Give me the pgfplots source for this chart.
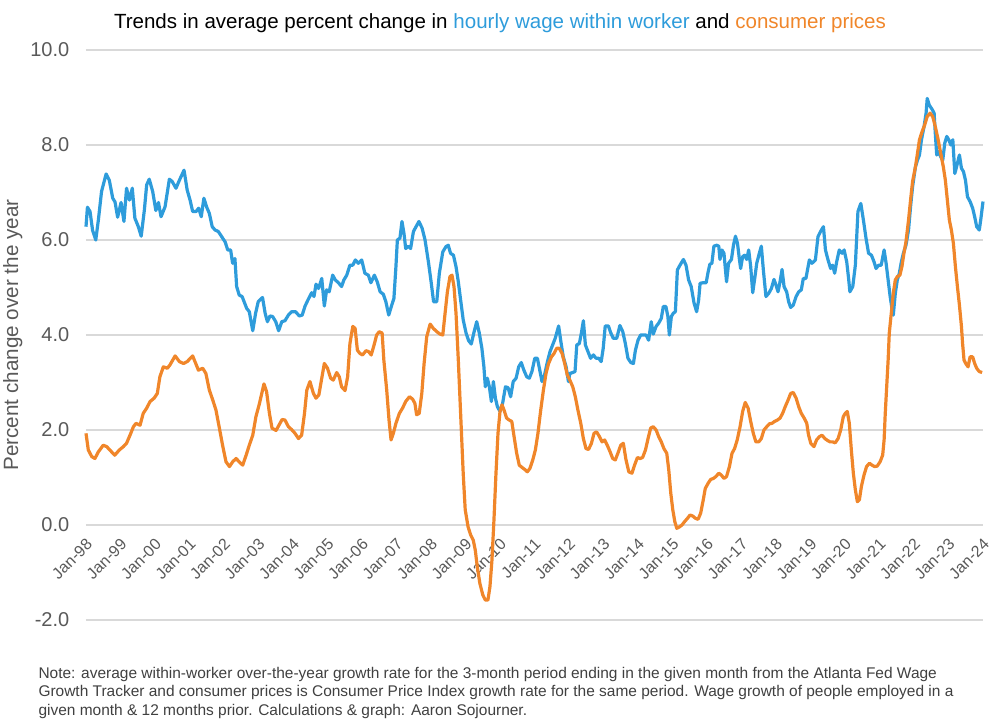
\documentclass[border=0pt]{standalone}
\usepackage{fontspec}
\setmainfont{Liberation Sans}
\usepackage{pgfplots}
\pgfplotsset{compat=1.18}
\definecolor{wageblue}{HTML}{2E9CDB}
\definecolor{cpiorange}{HTML}{F0862A}
\definecolor{tickgray}{HTML}{595959}
\definecolor{gridgray}{HTML}{D9D9D9}
\definecolor{notegray}{HTML}{404040}
\begin{document}
\begin{tikzpicture}[x=1pt,y=1pt]
\useasboundingbox (0,0) rectangle (750,541.5);
\begin{axis}[
  at={(64.5pt,76.5pt)}, anchor=south west,
  scale only axis, width=672.75pt, height=427.5pt,
  xmin=0, xmax=312, ymin=-2, ymax=10,
  axis x line*=middle, axis y line*=left,
  axis line style={draw=none},
  hide obscured x ticks=false,
  major tick length=0pt,
  ytick={-2,0,2,4,6,8,10},
  xtick={0,12,...,312},
  xticklabels={Jan-98,Jan-99,Jan-00,Jan-01,Jan-02,Jan-03,Jan-04,Jan-05,Jan-06,Jan-07,Jan-08,Jan-09,Jan-10,Jan-11,Jan-12,Jan-13,Jan-14,Jan-15,Jan-16,Jan-17,Jan-18,Jan-19,Jan-20,Jan-21,Jan-22,Jan-23,Jan-24},
  xticklabel shift=11pt,
  xticklabel style={font=\fontsize{12}{13}\selectfont, text=tickgray, xshift=4pt, rotate=45, anchor=east, inner sep=2pt},
  ymajorgrids, grid style={gridgray, line width=0.8pt},
  yticklabel style={font=\fontsize{15}{17}\selectfont, text=tickgray, xshift=-9pt,
    /pgf/number format/.cd, fixed, fixed zerofill, precision=1, assume math mode=true},
  clip=false,
]
\addplot[wageblue, line width=2.4pt, line join=round] coordinates {
(0,6.28) (0.5,6.69) (1.4,6.6) (2.3,6.2) (3.4,6.0) (4.3,6.42) (5.4,7.02) (7,7.39) (8.1,7.26) (9.3,6.88)
(10.1,6.8) (11,6.48) (12.2,6.79) (13.2,6.39) (14.1,7.09) (15.1,6.84) (16.1,7.09) (17,6.46) (18.2,6.28) (19.2,6.08)
(20.3,6.63) (21.1,7.16) (22,7.28) (23.2,7.02) (24.3,6.62) (25.2,6.79) (26.1,6.49) (27.5,6.7) (29,7.28) (30,7.23)
(31.3,7.09) (32.5,7.26) (34.1,7.47) (35.2,7.05) (36.2,6.84) (37.1,6.6) (38.3,6.6) (39.2,6.67) (40.1,6.49) (41,6.88)
(42,6.69) (42.9,6.56) (43.9,6.28) (44.9,6.21) (46,6.18) (47.2,6.07) (48.4,5.96) (49.3,5.79) (50.3,5.79) (51,5.51)
(51.8,5.61) (52.4,5.02) (53.3,4.84) (54.3,4.81) (55,4.7) (55.9,4.56) (56.8,4.49) (58,4.09) (59,4.46) (59.9,4.7)
(61.4,4.79) (62.3,4.46) (63.1,4.28) (64,4.40) (64.9,4.39) (66,4.28) (67,4.09) (68.1,4.28) (69.2,4.30) (70.4,4.42)
(71.5,4.49) (72.9,4.49) (74.2,4.40) (75.2,4.42) (76.2,4.61) (77.3,4.75) (78.5,4.89) (79.3,4.81) (80,5.07) (80.9,4.98)
(82,5.19) (82.9,4.61) (83.7,4.95) (84.6,4.91) (85.8,5.26) (86.7,5.16) (87.8,5.1) (88.9,5.02) (89.7,5.16) (90.7,5.26)
(91.8,5.47) (92.8,5.47) (93.7,5.58) (94.7,5.51) (95.9,5.58) (97,5.30) (98.2,5.26) (99.1,5.1) (100.3,5.26) (101.3,5.12)
(102.3,4.91) (103.4,4.86) (104.3,4.70) (105.3,4.42) (106.2,4.60) (107.1,4.77) (107.8,5.44) (108.3,6.0) (109.2,6.04) (109.9,6.39)
(110.6,6.14) (111.2,5.82) (112.1,5.87) (112.9,5.82) (113.9,6.18) (114.8,6.28) (115.8,6.39) (116.9,6.25) (117.9,6.01) (119.1,5.54)
(120.1,5.09) (120.9,4.70) (122,4.70) (122.9,5.30) (124.1,5.75) (125.2,5.86) (126,5.89) (126.8,5.72) (127.8,5.68) (128.7,5.44)
(129.5,5.12) (130.3,4.74) (131.2,4.32) (132.2,4.04) (133.1,3.88) (134,3.81) (135,4.07) (135.9,4.28) (136.8,4.04) (137.7,3.72)
(138.4,3.33) (138.9,2.91) (139.6,3.09) (140.3,2.91) (141,2.60) (141.7,3.02) (142.4,2.67) (143.1,2.49) (144,2.39) (144.9,2.56)
(145.9,2.91) (146.8,2.89) (147.7,2.70) (148.6,3.02) (149.6,3.09) (150.5,3.33) (151.4,3.42) (152.3,3.26) (153.3,3.12) (154.2,3.09)
(155.1,3.23) (156.1,3.51) (157,3.51) (157.7,3.30) (158.6,3.02) (159.5,3.16) (160.5,3.44) (161.4,3.65) (162.3,3.79) (163.2,3.93)
(164.4,4.19) (165.1,3.89) (166,3.54) (167,3.33) (167.8,3.02) (168.3,3.19) (169.3,3.21) (170.1,3.23) (170.7,3.79) (171.6,3.82)
(172.3,4.04) (173,4.30) (173.7,3.79) (174.6,3.65) (175.5,3.51) (176.5,3.58) (177.4,3.51) (178.3,3.51) (179.2,3.44) (179.9,3.72)
(180.6,4.19) (181.7,4.19) (182.5,4.05) (183.4,3.93) (184.6,3.93) (185.7,4.2) (186.7,4.07) (187.6,3.82) (188.5,3.51) (189.5,3.42)
(190.4,3.40) (191.1,3.68) (192,3.89) (192.9,4.0) (193.9,4.0) (194.8,4.0) (195.7,3.89) (196.6,4.28) (197.3,4.02) (198.3,4.18)
(199.2,4.25) (200.1,4.35) (200.8,4.60) (201.7,4.60) (202.4,4.39) (202.9,4.0) (203.6,4.39) (204.3,4.46) (205,4.49) (205.7,5.37)
(206.6,5.47) (207.8,5.59) (208.7,5.47) (209.6,5.16) (210.5,5.02) (211.5,4.67) (212.4,4.49) (213.1,4.74) (213.6,5.09) (214.7,5.10)
(215.7,5.10) (216.4,5.33) (217,5.49) (217.7,5.51) (218.4,5.87) (219.4,5.89) (220.1,5.87) (220.5,5.59) (221.2,5.79) (221.9,5.72)
(222.8,5.12) (223.5,5.51) (224.5,5.59) (225.2,5.89) (225.9,6.08) (226.6,5.93) (227.3,5.58) (227.7,5.40) (228.4,5.65) (229.1,5.68)
(229.8,5.59) (230.5,5.79) (231.2,5.44) (231.9,4.89) (232.6,5.19) (233.3,5.51) (234.2,5.72) (234.9,5.87) (235.6,5.37) (236.5,4.81)
(237.5,4.88) (238.4,4.98) (239.3,5.17) (240,5.05) (240.7,4.91) (241.4,5.12) (242.1,5.38) (242.8,5.02) (243.7,4.91) (244.4,4.70)
(245.1,4.58) (246,4.63) (247,4.81) (247.9,4.91) (248.8,4.95) (249.5,5.19) (250.4,5.19) (251.6,5.58) (252.5,5.51) (253.7,5.58)
(254.6,6.07) (255.5,6.18) (256.5,6.28) (257.2,5.79) (258.1,5.58) (259,5.40) (259.7,5.47) (260.4,5.30) (261.1,5.54) (262,5.79)
(263,5.72) (263.7,5.79) (264.6,5.54) (265.3,5.16) (265.7,4.91) (266.7,5.02) (267.6,5.47) (268.5,6.60) (269.5,6.77) (270.4,6.42)
(271.3,6.04) (272.2,5.72) (273.2,5.68) (274.1,5.54) (274.8,5.40) (275.7,5.47) (276.6,5.47) (277.6,5.79) (278.3,5.51) (279,5.16)
(279.7,4.81) (280.4,4.53) (280.8,4.42) (281.5,4.88) (282.2,5.16) (282.9,5.30) (283.6,5.54) (284.3,5.72) (285.2,5.89) (286.1,6.21)
(286.8,6.70) (287.5,7.12) (288.5,7.54) (289.2,7.68) (289.9,7.79) (290.6,8.11) (291.5,8.39) (292.2,8.67) (292.6,8.98) (293.3,8.84)
(294.3,8.75) (295,8.67) (295.4,8.25) (295.9,7.79) (296.6,7.86) (297.3,7.75) (298,7.68) (298.7,8.04) (299.4,8.18) (300.1,8.11)
(300.8,8.0) (301.5,8.11) (302.2,7.40) (302.8,7.54) (303.8,7.79) (304.5,7.51) (305.2,7.44) (305.9,7.26) (306.6,6.91) (307.5,6.81)
(308.4,6.67) (309.1,6.49) (309.8,6.28) (310.7,6.21) (311.2,6.42) (312,6.81)
};
\addplot[cpiorange, line width=2.4pt, line join=round] coordinates {
(0,1.93) (0.8,1.58) (2,1.44) (3.1,1.40) (4.3,1.54) (6,1.68) (7.2,1.65) (8.9,1.54) (10,1.47) (11.6,1.58)
(13,1.65) (14.1,1.72) (15.3,1.89) (16.5,2.07) (17.4,2.14) (18.8,2.1) (19.9,2.35) (21.1,2.46) (22.3,2.6) (23.7,2.67)
(24.8,2.77) (25.7,3.12) (26.9,3.33) (28.3,3.3) (29.2,3.37) (31,3.56) (32.5,3.44) (33.9,3.4) (35.2,3.44) (37.1,3.56)
(37.9,3.44) (39.1,3.26) (40.6,3.3) (41.7,3.19) (42.9,2.84) (44.1,2.63) (45.2,2.42) (46.4,2.04) (47.5,1.68) (48.7,1.33)
(49.9,1.23) (51,1.33) (52.2,1.40) (53.3,1.33) (54.5,1.26) (55.7,1.47) (56.8,1.68) (58,1.89) (59.1,2.28) (60.3,2.55)
(61.9,2.97) (62.8,2.81) (63.8,2.35) (64.7,2.04) (66.1,1.99) (67.2,2.11) (68.2,2.22) (69.2,2.21) (70.4,2.07) (71.5,2.01)
(72.7,1.93) (73.9,1.82) (75,1.89) (76,2.35) (76.8,2.84) (77.9,3.02) (79.1,2.77) (80,2.67) (81,2.74) (82,3.09)
(82.9,3.40) (84,3.30) (85.1,3.09) (86,3.05) (87.2,3.21) (88.1,3.12) (88.9,2.91) (90.1,2.83) (91,3.12) (91.8,3.82)
(92.8,4.18) (93.6,4.14) (94.4,3.68) (95.3,3.61) (96.2,3.58) (97.4,3.67) (98.3,3.65) (99.2,3.58) (100.2,3.79) (101.1,4.0)
(102,4.07) (103,4.04) (103.6,3.47) (104.6,2.84) (105.4,2.21) (106.1,1.79) (106.9,1.93) (107.8,2.14) (109,2.35) (110.1,2.46)
(111.2,2.60) (112.5,2.70) (113.6,2.65) (114.4,2.56) (115,2.32) (115.9,2.35) (116.8,2.77) (117.6,3.40) (118.5,3.96) (119.7,4.23)
(120.8,4.14) (122,4.07) (123.1,4.02) (124.1,4.0) (124.9,4.46) (125.7,4.91) (126.6,5.23) (127.3,5.26) (128,5.02) (128.7,4.46)
(129.5,3.47) (130.3,2.35) (131.2,1.09) (131.9,0.32) (132.9,-0.04) (133.8,-0.21) (134.7,-0.32) (135.4,-0.53) (136.1,-0.88) (137,-1.23)
(138,-1.47) (138.9,-1.58) (139.8,-1.58) (140.5,-1.30) (141.2,-0.74) (141.9,0.11) (142.6,1.09) (143.3,1.93) (144,2.39) (144.7,2.53)
(145.4,2.42) (146.3,2.25) (147.2,2.21) (148.1,2.18) (148.9,1.86) (149.8,1.51) (150.7,1.26) (151.7,1.21) (152.6,1.17) (153.5,1.12)
(154.4,1.19) (155.4,1.37) (156.3,1.58) (157.2,1.93) (158.1,2.39) (159.1,2.84) (160,3.19) (160.9,3.40) (161.9,3.54) (162.8,3.61)
(163.7,3.72) (164.6,3.72) (165.6,3.61) (166.5,3.40) (167.4,3.16) (168.3,3.05) (169.3,2.91) (170.2,2.70) (171.1,2.42) (172.1,2.14)
(173,1.82) (173.9,1.61) (174.8,1.59) (175.8,1.72) (176.7,1.93) (177.6,1.96) (178.6,1.86) (179.5,1.75) (180.4,1.79) (181.3,1.68)
(182.3,1.54) (183.2,1.40) (184.1,1.37) (185,1.51) (186,1.68) (186.9,1.72) (187.8,1.38) (188.8,1.12) (189.9,1.09) (190.8,1.26)
(191.8,1.42) (192.7,1.40) (193.6,1.42) (194.6,1.58) (195.5,1.82) (196.4,2.04) (197.3,2.07) (198.3,2.0) (199.2,1.86) (200.1,1.75)
(201,1.61) (202,1.51) (202.7,1.16) (203.4,0.67) (204.1,0.32) (204.8,0.07) (205.5,-0.07) (206.4,-0.04) (207.3,0) (208.2,0.07)
(209.2,0.14) (210.1,0.21) (211,0.19) (212,0.14) (212.9,0.12) (213.8,0.25) (214.7,0.53) (215.4,0.77) (216.4,0.88) (217.3,0.96)
(218.2,0.98) (219.1,1.02) (220.1,1.09) (221,1.05) (221.9,0.98) (222.8,1.02) (223.8,1.23) (224.7,1.51) (225.6,1.61) (226.5,1.79)
(227.5,2.07) (228.4,2.39) (229.3,2.58) (230.3,2.46) (231.2,2.18) (232.1,1.93) (233,1.75) (234,1.75) (234.9,1.82) (235.8,2.0)
(236.8,2.07) (237.7,2.13) (238.6,2.14) (239.5,2.18) (240.5,2.21) (241.4,2.25) (242.3,2.35) (243.2,2.49) (244.2,2.63) (245.1,2.77)
(246,2.79) (247,2.67) (247.9,2.49) (248.8,2.35) (249.8,2.25) (250.7,2.14) (251.3,1.90) (252.1,1.72) (253.2,1.65) (254.1,1.79)
(255.1,1.86) (256,1.89) (257,1.82) (257.9,1.78) (258.8,1.75) (259.7,1.75) (260.6,1.73) (261.6,1.82) (262.5,2.0) (263.4,2.28)
(264.1,2.35) (264.8,2.39) (265.5,2.14) (266.2,1.58) (266.9,1.09) (267.6,0.74) (268.3,0.49) (269,0.53) (269.7,0.81) (270.6,1.05)
(271.5,1.23) (272.5,1.30) (273.4,1.26) (274.3,1.23) (275.2,1.24) (276.2,1.33) (277.1,1.47) (277.6,1.79) (278,2.35) (278.5,2.91)
(279,3.47) (279.4,4.04) (280.1,4.46) (280.8,4.88) (281.5,5.16) (282.2,5.23) (283.1,5.26) (283.8,5.44) (284.5,5.72) (285.2,5.96)
(286.1,6.42) (286.8,6.84) (287.5,7.23) (288.5,7.54) (289.2,7.82) (289.9,8.11) (290.8,8.28) (291.7,8.42) (292.6,8.60) (293.6,8.67)
(294.5,8.60) (295.4,8.39) (296.4,8.11) (297.3,7.82) (298.2,7.54) (298.9,7.26) (299.6,6.84) (300.3,6.42) (301,6.21) (301.7,5.93)
(302.4,5.44) (303.1,5.02) (303.8,4.63) (304.5,4.18) (304.9,3.82) (305.4,3.47) (306.1,3.39) (306.8,3.33) (307.5,3.54) (308.4,3.54)
(309.1,3.40) (309.8,3.30) (310.7,3.23) (311.7,3.21)
};
\end{axis}
\node[anchor=base, inner sep=0pt, font=\fontsize{15.4}{18}\selectfont] at (375,520.3)
  {Trends in average percent change in \textcolor{wageblue}{hourly wage within worker} and \textcolor{cpiorange}{consumer prices}};
\node[rotate=90, inner sep=0pt, text=tickgray, font=\fontsize{15.5}{18}\selectfont] at (9.5,290.25) {Percent change over the year};
\begin{scope}[every node/.style={anchor=base west, inner sep=0pt, text=notegray, font=\fontsize{11.6}{13.7}\selectfont}]
\node at (28.7,32.5) {Note: average within-worker over-the-year growth rate for the 3-month period ending in the given month from the Atlanta Fed Wage};
\node at (28.7,18.8) {Growth Tracker and consumer prices is Consumer Price Index growth rate for the same period. Wage growth of people employed in a};
\node at (28.7,5.1) {given month \& 12 months prior. Calculations \& graph: Aaron Sojourner.};
\end{scope}
\end{tikzpicture}
\end{document}
